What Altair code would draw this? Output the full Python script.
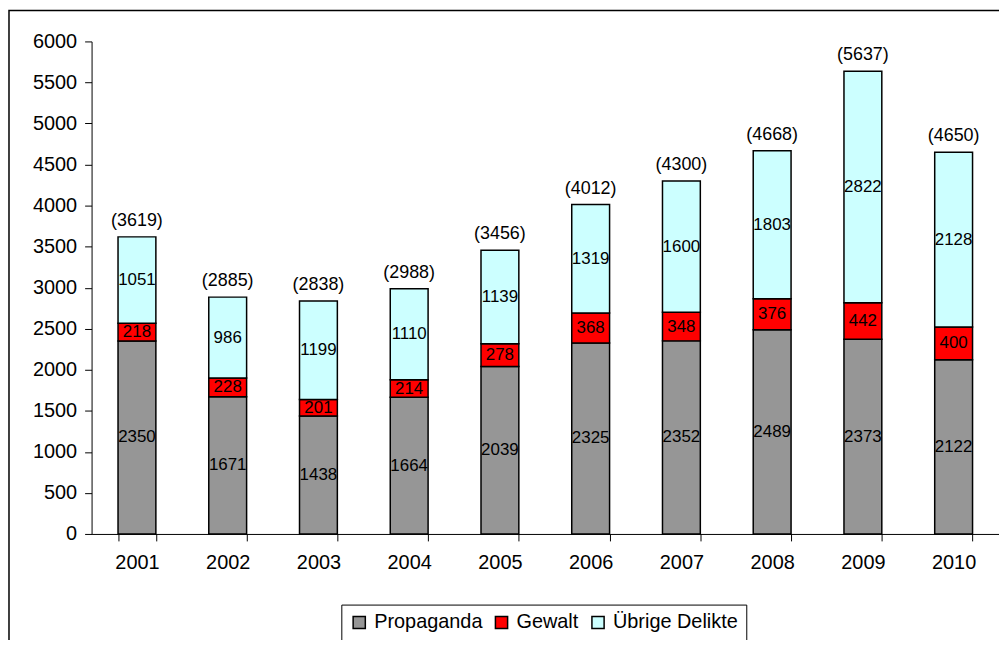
import altair as alt
import pandas as pd

years = ["2001", "2002", "2003", "2004", "2005", "2006", "2007", "2008", "2009", "2010"]
propaganda = [2350, 1671, 1438, 1664, 2039, 2325, 2352, 2489, 2373, 2122]
gewalt = [218, 228, 201, 214, 278, 368, 348, 376, 442, 400]
uebrige = [1051, 986, 1199, 1110, 1139, 1319, 1600, 1803, 2822, 2128]
series = ["Propaganda", "Gewalt", "Übrige Delikte"]
colors = ["#969696", "#FF0000", "#CCFFFF"]

rows = []
for i, y in enumerate(years):
    for k, (name, vals) in enumerate(zip(series, [propaganda, gewalt, uebrige])):
        rows.append({"year": y, "series": name, "order": k, "value": vals[i]})
df = pd.DataFrame(rows)

FONT = "Liberation Sans"

base = alt.Chart(df)

xenc = alt.X("year:N", title=None,
             scale=alt.Scale(paddingInner=0.583, paddingOuter=0.2915),
             axis=alt.Axis(labelAngle=0, tickBand="extent", tickSize=7,
                           labelFontSize=20, labelPadding=12, domainColor="black",
                           tickColor="black", labelColor="black", labelFont=FONT))

bars = base.mark_bar(stroke="black", strokeWidth=1.5).encode(
    x=xenc,
    y=alt.Y("value:Q", stack="zero", title=None,
            scale=alt.Scale(domain=[0, 6000], nice=False),
            axis=alt.Axis(values=list(range(0, 6001, 500)), format="d", tickSize=7,
                          labelFontSize=20, labelPadding=8, grid=False, domainColor="black",
                          tickColor="black", labelColor="black", labelFont=FONT)),
    color=alt.Color("series:N", sort=series,
                    scale=alt.Scale(domain=series, range=colors),
                    legend=alt.Legend(title=None, orient="none", legendX=251, legendY=566,
                                      direction="horizontal", symbolType="square",
                                      symbolSize=150, symbolStrokeColor="black",
                                      symbolStrokeWidth=1.5,
                                      labelFontSize=20, labelFont=FONT, labelColor="black",
                                      strokeColor="black", padding=8,
                                      columnPadding=9, labelOffset=5)),
    order=alt.Order("order:Q", sort="ascending"),
)

seg_labels = base.transform_stack(
    stack="value", groupby=["year"], as_=["y0", "y1"],
    sort=[alt.SortField("order", order="ascending")]
).transform_calculate(mid="(datum.y0 + datum.y1) / 2").mark_text(
    fontSize=17, font=FONT, color="black", baseline="middle"
).encode(x=alt.X("year:N"), y=alt.Y("mid:Q"), text=alt.Text("value:Q"))

totals = base.transform_aggregate(total="sum(value)", groupby=["year"]).transform_calculate(
    lab="'(' + datum.total + ')'"
).mark_text(fontSize=18, font=FONT, color="black", baseline="bottom", dy=-7).encode(
    x=alt.X("year:N"), y=alt.Y("total:Q"), text="lab:N")

frame = alt.Chart(pd.DataFrame({"a": [0]})).mark_rect(
    fill=None, stroke="black", strokeWidth=1.5, clip=False
).encode(x=alt.value(-83), x2=alt.value(914), y=alt.value(-31), y2=alt.value(620))

chart = alt.layer(frame, bars, seg_labels, totals).properties(
    width=912, height=495,
    background="white",
    autosize=alt.AutoSizeParams(type="none"),
    padding={"left": 84, "top": 32, "right": 0, "bottom": 105},
).configure_view(stroke=None)

chart.save("out.html", embed_options={"renderer": "svg", "actions": False})
